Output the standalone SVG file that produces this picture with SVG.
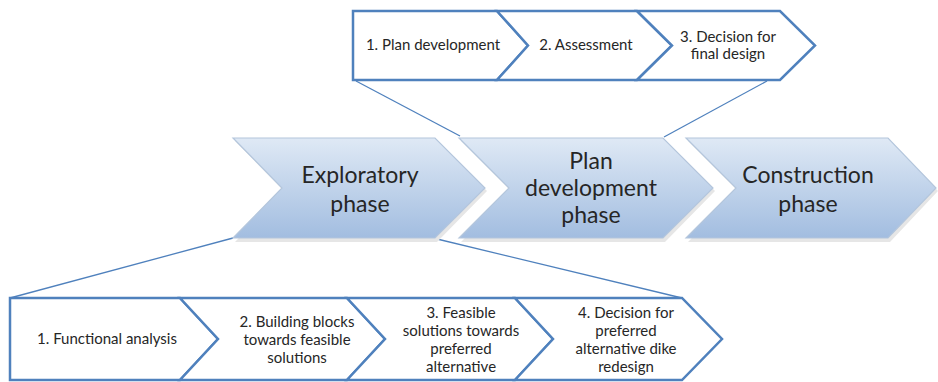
<svg xmlns="http://www.w3.org/2000/svg" width="938" height="382" viewBox="0 0 938 382">
  <defs>
    <linearGradient id="phaseGrad" x1="0" y1="0" x2="0" y2="1">
      <stop offset="0" stop-color="#dfe9f5"/>
      <stop offset="1" stop-color="#a2bde0"/>
    </linearGradient>
    <style>
      .phase { fill: url(#phaseGrad); stroke: #b4c6dc; stroke-width: 1.2; }
      .shadow { fill: #e6e6e6; }
      .step { fill: #ffffff; stroke: #4f81bd; stroke-width: 2.5; stroke-linejoin: miter; }
      .conn { stroke: #4f81bd; stroke-width: 1.3; fill: none; }
      .big { font-family: Lato, "Liberation Sans", sans-serif; font-size: 23px; fill: #262626; text-anchor: middle; }
      .small { font-family: Lato, "Liberation Sans", sans-serif; font-size: 15px; fill: #262626; text-anchor: middle; }
    </style>
  </defs>
  <rect width="938" height="382" fill="#ffffff"/>

  <g id="connectors">
    <line class="conn" x1="356" y1="81" x2="460" y2="136"/>
    <line class="conn" x1="767" y1="81" x2="664" y2="137"/>
    <line class="conn" x1="233" y1="238" x2="10" y2="298"/>
    <line class="conn" x1="437" y1="239" x2="682" y2="298"/>
  </g>

  <g id="top-steps">
    <g id="top1">
      <polygon class="step" points="353,11 497,11 528,45.5 497,80 353,80"/>
      <text class="small" x="433" y="50">1. Plan development</text>
    </g>
    <g id="top2">
      <polygon class="step" points="497,11 637,11 672,45.5 637,80 497,80 528,45.5"/>
      <text class="small" x="586" y="50">2. Assessment</text>
    </g>
    <g id="top3">
      <polygon class="step" points="637,11 780,11 815,45.5 780,80 637,80 672,45.5"/>
      <text class="small" x="728" y="42">3. Decision for</text>
      <text class="small" x="728" y="59">final design</text>
    </g>
  </g>

  <g id="phases">
    <g id="exploratory">
      <polygon class="shadow" points="235,141 437,141 487,191 437,242 235,242 284,191"/>
      <polygon class="phase" points="233,138 435,138 485,188 435,238 233,238 282,188"/>
      <text class="big" x="360" y="183">Exploratory</text>
      <text class="big" x="360" y="212">phase</text>
    </g>
    <g id="plan-development">
      <polygon class="shadow" points="461,141 665,141 715,191 665,242 461,242 511,191"/>
      <polygon class="phase" points="459,138 663,138 713,188 663,238 459,238 509,188"/>
      <text class="big" x="591" y="169">Plan</text>
      <text class="big" x="591" y="196">development</text>
      <text class="big" x="591" y="223">phase</text>
    </g>
    <g id="construction">
      <polygon class="shadow" points="688,141 890,141 938,191 890,242 688,242 738,191"/>
      <polygon class="phase" points="686,138 888,138 936,188 888,238 686,238 736,188"/>
      <text class="big" x="808" y="183">Construction</text>
      <text class="big" x="808" y="212">phase</text>
    </g>
  </g>

  <g id="bottom-steps">
    <g id="bot1">
      <polygon class="step" points="10,298 180,298 218,339 180,380 10,380"/>
      <text class="small" x="107" y="344">1. Functional analysis</text>
    </g>
    <g id="bot2">
      <polygon class="step" points="180,298 347,298 385,339 347,380 180,380 218,339"/>
      <text class="small" x="297" y="327">2. Building blocks</text>
      <text class="small" x="297" y="345">towards feasible</text>
      <text class="small" x="297" y="363">solutions</text>
    </g>
    <g id="bot3">
      <polygon class="step" points="347,298 515,298 553,339 515,380 347,380 385,339"/>
      <text class="small" x="461" y="318">3. Feasible</text>
      <text class="small" x="461" y="336">solutions towards</text>
      <text class="small" x="461" y="354">preferred</text>
      <text class="small" x="461" y="372">alternative</text>
    </g>
    <g id="bot4">
      <polygon class="step" points="515,298 682,298 722,339 682,380 515,380 553,339"/>
      <text class="small" x="626" y="318">4. Decision for</text>
      <text class="small" x="626" y="336">preferred</text>
      <text class="small" x="626" y="354">alternative dike</text>
      <text class="small" x="626" y="372">redesign</text>
    </g>
  </g>
</svg>
